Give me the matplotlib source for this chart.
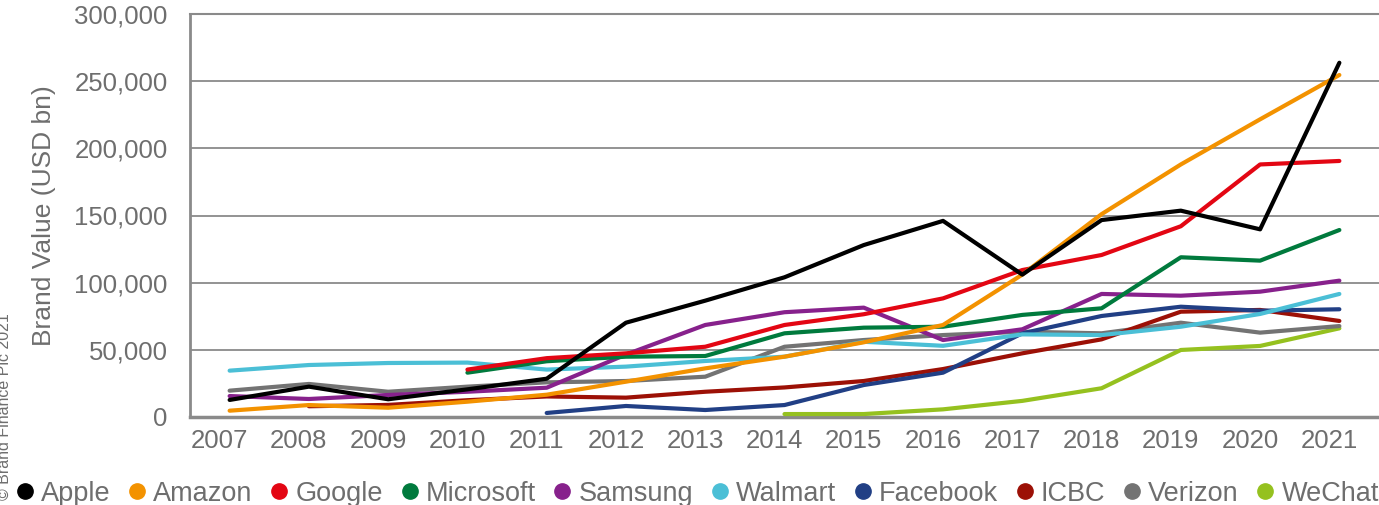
import numpy as np
import matplotlib
matplotlib.use('Agg')
import matplotlib.pyplot as plt
import matplotlib.transforms as mtransforms

nan = np.nan
years = ['2007', '2008', '2009', '2010', '2011', '2012', '2013', '2014',
         '2015', '2016', '2017', '2018', '2019', '2020', '2021']

apple = [12700, 22600, 13200, 20600, 28500, 70200, 86600, 104000, 128000, 146000, 106000, 146600, 153600, 139700, 263700]
amazon = [4700, 8900, 6900, 11400, 16600, 26300, 36200, 44900, 55600, 68500, 106000, 151000, 188000, 221600, 254600]
google = [nan, nan, nan, 35300, 43800, 47400, 52300, 68500, 76500, 88300, 109400, 120600, 142000, 188000, 190600]
microsoft = [nan, nan, nan, 33000, 41500, 44900, 45400, 62300, 66500, 67200, 76000, 80900, 118900, 116400, 139200]
samsung = [15600, 13400, 16400, 18800, 21800, 46500, 68500, 78000, 81400, 57300, 65300, 91600, 90300, 93300, 101500]
walmart = [34500, 38700, 40200, 40500, 35300, 37500, 41700, 44900, 56000, 53000, 61500, 61000, 67200, 76700, 91600]
facebook = [nan, nan, nan, nan, 3000, 8200, 5200, 8900, 23800, 33000, 62300, 75200, 82100, 79100, 80200]
icbc = [nan, 8000, 9000, 12500, 15300, 14400, 18800, 22000, 26800, 35700, 47400, 57800, 78400, 79700, 71500]
verizon = [19600, 24600, 18800, 22600, 25800, 26800, 30000, 52300, 57300, 61000, 63500, 62300, 70200, 62800, 67700]
wechat = [nan, nan, nan, nan, nan, nan, nan, 2200, 2200, 5700, 12000, 21400, 49900, 52900, 66000]

brands = ['Apple', 'Amazon', 'Google', 'Microsoft', 'Samsung',
          'Walmart', 'Facebook', 'ICBC', 'Verizon', 'WeChat']
series = [apple, amazon, google, microsoft, samsung,
          walmart, facebook, icbc, verizon, wechat]
colors = ['#000000', '#F39200', '#E30613', '#007A3D', '#87218C',
          '#4BBFD6', '#213F85', '#9C1006', '#737373', '#95C11F']

plt.rcParams['font.family'] = ['Liberation Sans', 'DejaVu Sans']
text_gray = '#6e6e6e'
line_gray = '#8a8a8a'

fig = plt.figure(figsize=(13.79, 5.05), dpi=100)
ax = fig.add_axes([190 / 1379, 1 - 417 / 505, 1 - 190 / 1379, (417 - 14) / 505])

x = np.arange(len(years))
# draw in reverse so Apple ends up on top
for name, vals, c in reversed(list(zip(brands, series, colors))):
    ax.plot(x, vals, color=c, lw=3, solid_capstyle='round', solid_joinstyle='round', zorder=3)

ax.set_xlim(-0.5, 14.5)
ax.set_ylim(0, 300000)
ax.set_yticks(range(0, 300001, 50000))
ax.set_yticklabels(['0', '50,000', '100,000', '150,000', '200,000', '250,000', '300,000'])
ax.set_xticks(x)
ax.set_xticklabels(years)
ax.tick_params(length=0, labelsize=18.5, colors=text_gray)
ax.tick_params(axis='y', pad=16)
ax.tick_params(axis='x', pad=9)
shift = mtransforms.ScaledTranslation(-10 / 100, 0, fig.dpi_scale_trans)
for lab in ax.get_xticklabels():
    lab.set_transform(lab.get_transform() + shift)

ax.yaxis.grid(True, color=line_gray, lw=1.3)
ax.set_axisbelow(True)
for s in ['left', 'bottom', 'top']:
    ax.spines[s].set_color(line_gray)
ax.spines['left'].set_linewidth(2)
ax.spines['bottom'].set_linewidth(2.5)
ax.spines['top'].set_linewidth(1.5)
ax.spines['right'].set_visible(False)

ax.set_ylabel('Brand Value (USD bn)', fontsize=19, color=text_gray)
ax.yaxis.set_label_coords(-0.113, 0.5)

fig.text(0.003, 0.01, '\u00a9 Brand Finance Plc 2021', rotation=90, fontsize=11.5,
         color=text_gray, ha='center', va='bottom')

handles = [plt.Line2D([], [], ls='none', marker='o', markersize=11, color=c) for c in colors]
leg = fig.legend(handles, brands, loc='center', bbox_to_anchor=(0.506, 0.022), ncol=10,
                 frameon=False, fontsize=19.5, handlelength=0.6, handletextpad=0.3,
                 columnspacing=0.68, borderaxespad=0)
for t in leg.get_texts():
    t.set_color(text_gray)

fig.savefig('out.png', dpi=100)
